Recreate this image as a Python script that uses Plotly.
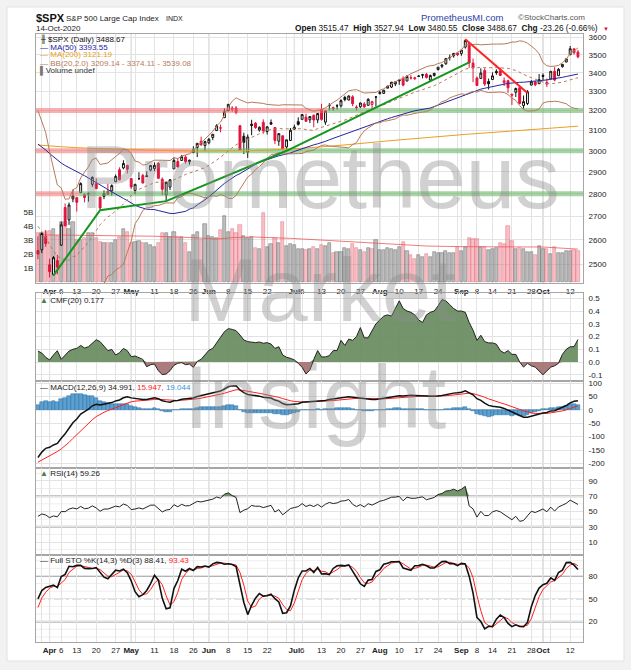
import numpy as np
import pandas as pd
import plotly.graph_objects as go

# ---------------- DATA ----------------
dates = ["2020-03-27","2020-03-30","2020-03-31",
"2020-04-01","2020-04-02","2020-04-03","2020-04-06","2020-04-07","2020-04-08","2020-04-09","2020-04-13","2020-04-14","2020-04-15",
"2020-04-16","2020-04-17","2020-04-20","2020-04-21","2020-04-22","2020-04-23","2020-04-24","2020-04-27","2020-04-28","2020-04-29","2020-04-30",
"2020-05-01","2020-05-04","2020-05-05","2020-05-06","2020-05-07","2020-05-08","2020-05-11","2020-05-12","2020-05-13","2020-05-14","2020-05-15",
"2020-05-18","2020-05-19","2020-05-20","2020-05-21","2020-05-22","2020-05-26","2020-05-27","2020-05-28","2020-05-29",
"2020-06-01","2020-06-02","2020-06-03","2020-06-04","2020-06-05","2020-06-08","2020-06-09","2020-06-10","2020-06-11","2020-06-12","2020-06-15",
"2020-06-16","2020-06-17","2020-06-18","2020-06-19","2020-06-22","2020-06-23","2020-06-24","2020-06-25","2020-06-26","2020-06-29","2020-06-30",
"2020-07-01","2020-07-02","2020-07-06","2020-07-07","2020-07-08","2020-07-09","2020-07-10","2020-07-13","2020-07-14","2020-07-15","2020-07-16",
"2020-07-17","2020-07-20","2020-07-21","2020-07-22","2020-07-23","2020-07-24","2020-07-27","2020-07-28","2020-07-29","2020-07-30","2020-07-31",
"2020-08-03","2020-08-04","2020-08-05","2020-08-06","2020-08-07","2020-08-10","2020-08-11","2020-08-12","2020-08-13","2020-08-14","2020-08-17",
"2020-08-18","2020-08-19","2020-08-20","2020-08-21","2020-08-24","2020-08-25","2020-08-26","2020-08-27","2020-08-28","2020-08-31",
"2020-09-01","2020-09-02","2020-09-03","2020-09-04","2020-09-08","2020-09-09","2020-09-10","2020-09-11","2020-09-14","2020-09-15","2020-09-16",
"2020-09-17","2020-09-18","2020-09-21","2020-09-22","2020-09-23","2020-09-24","2020-09-25","2020-09-28","2020-09-29","2020-09-30",
"2020-10-01","2020-10-02","2020-10-05","2020-10-06","2020-10-07","2020-10-08","2020-10-09","2020-10-12","2020-10-13","2020-10-14"]

opens = [2555.87,2558.98,2614.69,
2498.08,2458.54,2514.92,2578.28,2738.65,2685.00,2776.99,2782.46,2805.10,2795.64,2799.34,2842.43,2845.62,2784.81,2787.89,2810.42,2812.64,2854.65,2909.96,2918.46,2930.91,
2869.09,2815.01,2868.88,2883.14,2878.26,2908.83,2915.46,2939.50,2865.86,2794.54,2829.95,2913.86,2948.59,2953.63,2969.95,2948.05,3004.08,3015.65,3046.61,3025.17,
3038.78,3064.78,3098.90,3111.56,3163.84,3199.92,3213.32,3213.42,3123.53,3071.04,2993.76,3131.00,3136.13,3101.64,3140.29,3094.42,3138.70,3114.40,3046.60,3073.20,3018.59,3050.20,
3105.92,3143.64,3155.29,3166.44,3153.07,3176.17,3152.47,3205.08,3141.11,3225.98,3208.36,3224.21,3224.29,3268.52,3254.86,3271.64,3218.58,3219.84,3234.27,3227.22,3231.76,3270.45,
3288.26,3289.92,3317.37,3323.17,3340.05,3356.04,3370.34,3355.46,3372.95,3368.66,3380.86,3387.04,3392.51,3360.48,3386.01,3418.09,3435.95,3449.97,3485.14,3494.69,3509.73,
3507.44,3543.76,3564.74,3453.60,3371.88,3369.82,3412.56,3352.70,3363.56,3407.73,3411.23,3346.86,3357.38,3285.57,3295.75,3320.11,3226.14,3236.66,3333.90,3350.92,3341.21,
3385.87,3338.94,3367.27,3408.74,3384.56,3434.28,3459.67,3500.02,3534.01,3515.47]

highs = [2615.91,2631.80,2641.39,
2522.75,2533.22,2538.18,2676.85,2756.89,2760.75,2818.57,2782.46,2851.85,2801.88,2806.51,2879.22,2868.98,2785.54,2815.10,2844.90,2842.71,2887.72,2921.15,2954.86,2930.91,
2869.09,2844.24,2898.23,2891.11,2901.92,2932.16,2944.25,2945.82,2874.14,2852.80,2865.01,2968.09,2964.21,2980.29,2978.50,2956.76,3021.72,3036.25,3068.67,3049.17,
3062.18,3081.07,3130.94,3128.91,3211.72,3233.13,3222.71,3223.27,3123.53,3088.42,3079.76,3153.45,3141.16,3120.00,3155.53,3120.92,3154.90,3115.01,3086.25,3073.73,3053.89,3111.51,
3128.44,3165.81,3182.59,3184.15,3171.80,3179.78,3186.82,3235.32,3200.95,3238.28,3220.39,3233.52,3258.61,3277.29,3279.32,3279.99,3227.26,3241.43,3243.72,3264.74,3250.92,3272.17,
3302.73,3306.84,3330.77,3351.03,3352.54,3363.29,3381.01,3387.89,3387.24,3378.51,3387.59,3395.06,3399.54,3390.80,3399.96,3432.09,3444.21,3481.07,3501.38,3509.23,3514.77,
3528.03,3588.11,3564.85,3479.15,3379.97,3424.77,3425.55,3368.95,3402.93,3419.48,3428.92,3375.17,3362.27,3285.57,3320.31,3323.35,3278.70,3306.88,3360.74,3357.92,3393.56,
3397.18,3369.10,3409.57,3431.56,3426.26,3447.28,3482.34,3549.85,3534.01,3527.94]

lows = [2520.02,2545.28,2571.15,
2447.49,2455.79,2459.96,2574.57,2657.67,2663.30,2762.36,2721.17,2805.10,2761.54,2764.32,2830.88,2820.43,2727.10,2775.95,2794.26,2791.76,2852.89,2860.71,2912.16,2892.47,
2821.61,2797.85,2863.55,2847.65,2876.48,2902.88,2903.44,2869.59,2793.15,2766.64,2816.78,2913.86,2922.35,2953.63,2938.57,2933.59,2988.17,2969.75,3023.40,2998.61,
3031.54,3051.64,3098.90,3090.41,3163.84,3196.00,3193.11,3181.49,2999.49,2984.47,2965.66,3076.06,3108.03,3093.51,3083.11,3079.39,3127.12,3032.13,3024.01,3004.63,2999.74,3047.83,
3101.17,3124.52,3155.29,3142.93,3136.53,3115.70,3136.22,3149.43,3127.66,3200.76,3198.59,3205.65,3215.16,3247.77,3253.10,3222.66,3200.05,3214.25,3216.17,3227.22,3204.13,3220.26,
3284.53,3286.37,3317.37,3318.14,3328.72,3335.44,3326.44,3355.46,3363.35,3361.64,3379.22,3370.15,3369.66,3354.69,3379.31,3413.13,3425.84,3444.15,3468.35,3484.32,3493.25,
3494.60,3535.23,3427.41,3349.63,3329.27,3366.84,3329.25,3310.47,3363.56,3389.25,3384.45,3328.82,3292.40,3229.10,3270.95,3232.57,3209.45,3228.44,3332.91,3327.54,3340.47,
3361.39,3323.69,3367.27,3354.54,3384.56,3428.15,3458.07,3499.61,3500.86,3480.55]

closes = [2541.47,2626.65,2584.59,
2470.50,2526.90,2488.65,2663.68,2659.41,2749.98,2789.82,2761.63,2846.06,2783.36,2799.55,2874.56,2823.16,2736.56,2799.31,2797.80,2836.74,2878.48,2863.39,2939.51,2912.43,
2830.71,2842.74,2868.44,2848.42,2881.19,2929.80,2930.32,2870.12,2820.00,2852.50,2863.70,2953.91,2922.94,2971.61,2948.51,2955.45,2991.77,3036.13,3029.73,3044.31,
3055.73,3080.82,3122.87,3112.35,3193.93,3232.39,3207.18,3190.14,3002.10,3041.31,3066.59,3124.74,3113.49,3115.34,3097.74,3117.86,3131.29,3050.33,3083.76,3009.05,3053.24,3100.29,
3115.86,3130.01,3179.72,3145.32,3169.94,3152.05,3185.04,3155.22,3197.52,3226.56,3215.57,3224.73,3251.84,3257.30,3276.02,3235.66,3215.63,3239.41,3218.44,3258.44,3246.22,3271.12,
3294.61,3306.51,3327.77,3349.16,3351.28,3360.47,3333.69,3380.35,3373.43,3372.85,3381.99,3389.78,3374.85,3385.51,3397.16,3431.28,3443.62,3478.73,3484.55,3508.01,3500.31,
3526.65,3580.84,3455.06,3426.96,3331.84,3398.96,3339.19,3340.97,3383.54,3401.20,3385.49,3357.01,3319.47,3281.06,3315.57,3236.92,3246.59,3298.46,3351.60,3335.47,3363.00,
3380.80,3348.42,3408.60,3360.97,3419.44,3446.83,3477.14,3534.22,3511.93,3488.67]

volume_b = [3.5,3.45,3.57,3.6,3.75,3.3,4.3,4.3,3.8,4.3,
3.0,3.0,3.1,3.45,3.5,3.1,2.86,2.74,2.74,2.78,
2.98,3.2,3.76,3.57,2.74,2.86,2.9,2.78,2.74,2.62,
2.5,2.74,3.5,3.45,3.2,3.52,3.2,3.17,2.78,2.14,
3.33,3.57,2.98,4.1,3.3,3.2,3.1,3.7,4.7,3.57,
3.8,3.5,4.05,3.26,3.14,3.2,2.38,2.31,4.88,2.5,
2.69,3.14,2.74,4.29,2.55,2.69,2.62,2.31,2.31,2.26,
2.31,2.5,2.31,2.62,2.55,2.79,2.07,2.1,2.1,2.38,
2.31,2.69,2.38,2.26,2.14,2.38,2.31,2.98,2.26,2.26,
2.38,2.31,2.26,2.5,2.81,2.19,1.91,1.6,1.91,1.74,
1.98,1.79,2.14,2.02,2.02,2.21,2.02,2.02,2.5,2.19,
2.5,3.1,3.02,3.02,2.5,2.45,2.26,2.31,2.38,2.79,
2.69,3.98,2.9,2.31,2.38,2.31,2.1,2.1,1.91,2.55,
2.31,2.31,1.98,2.5,2.02,2.02,2.19,2.19,2.26,2.2]

cmf20 = [0.086,0.07,0.037,0.016,0.055,0.089,0.021,0.055,0.086,0.10,
0.107,0.13,0.11,0.12,0.147,0.175,0.16,0.12,0.089,0.099,
0.055,0.073,0.107,0.089,0.042,0.047,0.031,0.021,-0.037,-0.021,
-0.016,-0.068,-0.099,-0.094,-0.068,-0.026,-0.010,-0.005,-0.021,-0.016,
-0.042,0.005,0.021,0.055,0.092,0.107,0.147,0.194,0.238,0.262,
0.256,0.246,0.212,0.173,0.160,0.157,0.152,0.157,0.147,0.152,
0.141,0.107,0.12,0.055,0.037,0.029,0.016,-0.01,-0.042,-0.094,
-0.063,0.02,0.09,0.04,0.04,0.05,0.09,0.09,0.17,0.13,
0.18,0.17,0.20,0.27,0.19,0.19,0.25,0.30,0.33,0.36,
0.37,0.36,0.42,0.48,0.42,0.40,0.39,0.37,0.33,0.31,
0.37,0.39,0.40,0.44,0.49,0.48,0.45,0.42,0.40,0.40,
0.39,0.31,0.25,0.17,0.21,0.16,0.15,0.15,0.14,0.09,
0.07,0.09,0.06,0.06,0.00,-0.04,-0.01,-0.03,-0.04,-0.07,
-0.10,-0.07,-0.04,-0.03,-0.01,0.06,0.10,0.12,0.12,0.177]

# warm-up history (before the visible window) for the moving indicators
warm_close_janfeb = [3316.81,3329.62,3320.79,3321.75,3325.54,3295.47,3243.63,3276.24,3273.40,3283.66,3225.52,
3248.92,3297.59,3334.69,3345.78,3327.71,3352.09,3357.75,3379.45,3373.94,3380.16,3370.29,3386.15,3373.23,3337.75,
3225.89,3128.21,3116.39,2978.76,2954.22]
warm_high_mar = [3090.96,3136.72,3130.97,3083.04,2985.93,2863.89,2882.59,2825.60,2660.95,2711.33,2562.98,2553.93,2453.57,2466.97,2453.01,2300.73,2449.71,2571.42,2637.01]
warm_low_mar = [2945.19,2976.63,3034.38,2999.83,2901.54,2734.43,2734.00,2707.22,2478.86,2492.37,2380.94,2367.04,2280.52,2319.78,2295.56,2191.86,2344.44,2407.53,2500.72]
warm_close_mar = [3090.23,3003.37,3130.12,3023.94,2972.37,2746.56,2882.23,2741.38,2480.64,2711.02,2386.13,2529.19,2398.10,2409.39,2304.92,2237.40,2447.33,2475.56,2630.07]

# MA(200) and volume average at sample days
ma200_dates = ["2020-03-27","2020-04-13","2020-04-27","2020-05-11","2020-05-26","2020-06-09","2020-06-23","2020-07-08",
"2020-07-22","2020-08-05","2020-08-19","2020-09-02","2020-09-17","2020-10-01","2020-10-14"]
ma200_vals = [3028,3015,3008,3003,2999,3000,3004,3015,3030,3048,3064,3080,3094,3108,3121.19]
volavg_dates = ["2020-03-27","2020-04-13","2020-04-27","2020-05-11","2020-05-26","2020-06-03","2020-06-09","2020-06-16",
"2020-06-30","2020-07-15","2020-07-29","2020-08-10","2020-08-19","2020-09-02","2020-09-17","2020-10-01","2020-10-14"]
volavg_vals = [3.35,3.32,3.28,3.25,3.15,3.05,3.15,3.2,3.1,2.95,2.75,2.65,2.55,2.5,2.5,2.48,2.33]

# hand-drawn support levels / trendlines
support_levels = [2800, 3000, 3200]
support_flip_dates = ["2020-04-14", "2020-05-26", "2020-07-15"]   # red before, green after
green_trend_dates = ["2020-04-02", "2020-04-21", "2020-05-14", "2020-06-29", "2020-09-03"]
green_trend_vals = [2456, 2727, 2767, 3000, 3458]
red_trend_dates = ["2020-09-02", "2020-09-25"]
red_trend_vals = [3588, 3292]

# x-axis ticks (gridline day, label)
x_ticks = [("2020-03-30",""),("2020-04-01","<b>Apr</b>"),("2020-04-06","6"),("2020-04-13","13"),("2020-04-20","20"),
("2020-04-27","27"),("2020-05-01","<b>May</b>"),("2020-05-04",""),("2020-05-11","11"),("2020-05-18","18"),("2020-05-26","26"),
("2020-06-01","<b>Jun</b>"),("2020-06-08","8"),("2020-06-15","15"),("2020-06-22","22"),("2020-06-29",""),("2020-07-01","<b>Jul</b>"),
("2020-07-06","6"),("2020-07-13","13"),("2020-07-20","20"),("2020-07-27","27"),("2020-08-03","<b>Aug</b>"),("2020-08-10","10"),
("2020-08-17","17"),("2020-08-24","24"),("2020-08-31",""),("2020-09-01","<b>Sep</b>"),("2020-09-08","8"),("2020-09-14","14"),
("2020-09-21","21"),("2020-09-28","28"),("2020-10-01","<b>Oct</b>"),("2020-10-05",""),("2020-10-12","12")]
month_start_dates = ["2020-04-01","2020-05-01","2020-06-01","2020-07-01","2020-08-03","2020-09-01","2020-10-01"]

# ---------------- INDICATORS ----------------
n = len(dates)
idx = np.arange(n)
pos = {d: i for i, d in enumerate(dates)}
c_all = pd.Series(warm_close_janfeb + warm_close_mar + closes)
nw = len(warm_close_janfeb) + len(warm_close_mar)
ma50 = c_all.rolling(50).mean().to_numpy()[nw:]
mid = c_all.rolling(20).mean()
sd = c_all.rolling(20).std(ddof=0)
bb_up = (mid + 2 * sd).to_numpy()[nw:]
bb_lo = (mid - 2 * sd).to_numpy()[nw:]
bb_mid = mid.to_numpy()[nw:]
ema12 = c_all.ewm(span=12, adjust=False).mean()
ema26 = c_all.ewm(span=26, adjust=False).mean()
macd_all = ema12 - ema26
sig_all = macd_all.ewm(span=9, adjust=False).mean()
macd = macd_all.to_numpy()[nw:]
signal = sig_all.to_numpy()[nw:]
hist = macd - signal
dlt = c_all.diff()
ag = dlt.clip(lower=0).ewm(alpha=1 / 14, adjust=False).mean()
al = (-dlt.clip(upper=0)).ewm(alpha=1 / 14, adjust=False).mean()
rsi = (100 - 100 / (1 + ag / al)).to_numpy()[nw:]
h2 = pd.Series(warm_high_mar + highs)
l2 = pd.Series(warm_low_mar + lows)
c2 = pd.Series(warm_close_mar + closes)
fk = 100 * (c2 - l2.rolling(14).min()) / (h2.rolling(14).max() - l2.rolling(14).min())
kk = fk.rolling(3).mean()
dd = kk.rolling(3).mean()
sto_k = kk.to_numpy()[len(warm_close_mar):]
sto_d = dd.to_numpy()[len(warm_close_mar):]

prev_close = [warm_close_mar[-1]] + closes[:-1]
up_day = [c >= p for c, p in zip(closes, prev_close)]

# ---------------- LAYOUT GEOMETRY ----------------
W, H = 631, 670
ML, MR, MT, MB = 36, 48, 34, 28
PW, PH = W - ML - MR, H - MT - MB
def fx(x): return (x - ML) / PW
def fy(y): return (H - MB - y) / PH
FONT = "Liberation Sans, Arial, sans-serif"
RED = "#e0143c"
GRID = "#e3e3e3"
BORDER = "#a6a6a6"
XR = [-0.5, 140.3]

dom_price = [fy(283), 1.0]
dom_cmf = [fy(381), fy(293)]
dom_macd = [fy(468), fy(381)]
dom_rsi = [fy(555), fy(468)]
dom_sto = [0.0, fy(555)]

fig = go.Figure()

# volume (base axis y, price panel)
vcol = ["rgba(150,150,150,0.62)" if u else "rgba(238,130,142,0.5)" for u in up_day]
vline = ["rgba(105,105,105,0.8)" if u else "rgba(225,105,118,0.75)" for u in up_day]
fig.add_trace(go.Bar(x=idx, y=volume_b, marker=dict(color=vcol, line=dict(color=vline, width=0.6)),
                     width=0.82, xaxis="x", yaxis="y"))
fig.add_trace(go.Scatter(x=[pos[d] for d in volavg_dates], y=volavg_vals, mode="lines",
                         line=dict(color="rgba(235,80,80,0.75)", width=1), xaxis="x", yaxis="y"))

# support bands (price axis y6)
for lvl, fd in zip(support_levels, support_flip_dates):
    k = pos[fd] - 0.5
    fig.add_trace(go.Scatter(x=[XR[0], k], y=[lvl, lvl], mode="lines",
                             line=dict(color="rgba(240,110,110,0.55)", width=5), xaxis="x", yaxis="y6"))
    fig.add_trace(go.Scatter(x=[k, XR[1]], y=[lvl, lvl], mode="lines",
                             line=dict(color="rgba(95,175,95,0.55)", width=5), xaxis="x", yaxis="y6"))

# MA200, MA50, BB
fig.add_trace(go.Scatter(x=[pos[d] for d in ma200_dates], y=ma200_vals, mode="lines", line_shape="spline",
                         line=dict(color="#e8a020", width=1), xaxis="x", yaxis="y6"))
fig.add_trace(go.Scatter(x=idx, y=ma50, mode="lines", line=dict(color="#2424a0", width=1), xaxis="x", yaxis="y6"))
BBC = "#b87a58"
fig.add_trace(go.Scatter(x=idx, y=bb_up, mode="lines", line=dict(color=BBC, width=1), xaxis="x", yaxis="y6"))
fig.add_trace(go.Scatter(x=idx, y=bb_lo, mode="lines", line=dict(color=BBC, width=1), xaxis="x", yaxis="y6"))
fig.add_trace(go.Scatter(x=idx, y=bb_mid, mode="lines", line=dict(color=BBC, width=1, dash="dot"), xaxis="x", yaxis="y6"))

# candles: black when close >= previous close, red otherwise; hollow when close > open
for flag, col in [(True, "#111111"), (False, RED)]:
    sel = [i for i in range(n) if up_day[i] == flag]
    fig.add_trace(go.Candlestick(
        x=sel, open=[opens[i] for i in sel], high=[highs[i] for i in sel],
        low=[lows[i] for i in sel], close=[closes[i] for i in sel],
        increasing=dict(line=dict(color=col, width=1), fillcolor="white"),
        decreasing=dict(line=dict(color=col, width=1), fillcolor=col),
        whiskerwidth=0, xaxis="x", yaxis="y6"))

# trendlines
fig.add_trace(go.Scatter(x=[pos[d] for d in green_trend_dates], y=green_trend_vals, mode="lines",
                         line=dict(color="#14961e", width=2), xaxis="x", yaxis="y6"))
fig.add_trace(go.Scatter(x=[pos[d] for d in red_trend_dates], y=red_trend_vals, mode="lines",
                         line=dict(color="#ff2424", width=2), xaxis="x", yaxis="y6"))

# CMF
cmf = np.array(cmf20)
fig.add_trace(go.Scatter(x=idx, y=np.maximum(cmf, 0), mode="lines", line=dict(width=0), fill="tozeroy",
                         fillcolor="rgba(104,140,96,0.92)", xaxis="x2", yaxis="y2"))
fig.add_trace(go.Scatter(x=idx, y=np.minimum(cmf, 0), mode="lines", line=dict(width=0), fill="tozeroy",
                         fillcolor="rgba(165,112,112,0.92)", xaxis="x2", yaxis="y2"))
fig.add_trace(go.Scatter(x=idx, y=cmf, mode="lines", line=dict(color="#222", width=1), xaxis="x2", yaxis="y2"))

# MACD
fig.add_trace(go.Bar(x=idx, y=hist, width=1.0, marker=dict(color="rgba(74,150,205,0.9)", line=dict(color="#2a6e9e", width=0.5)),
                     xaxis="x3", yaxis="y3"))
fig.add_trace(go.Scatter(x=idx, y=signal, mode="lines", line=dict(color="#ff2020", width=1), xaxis="x3", yaxis="y3"))
fig.add_trace(go.Scatter(x=idx, y=macd, mode="lines", line=dict(color="#111", width=1.5), xaxis="x3", yaxis="y3"))

# RSI
fig.add_trace(go.Scatter(x=idx, y=[70] * n, mode="lines", line=dict(width=0), xaxis="x4", yaxis="y4"))
fig.add_trace(go.Scatter(x=idx, y=np.maximum(rsi, 70), mode="lines", line=dict(width=0), fill="tonexty",
                         fillcolor="rgba(104,140,96,0.92)", xaxis="x4", yaxis="y4"))
fig.add_trace(go.Scatter(x=idx, y=rsi, mode="lines", line=dict(color="#222", width=1), xaxis="x4", yaxis="y4"))

# Full STO
fig.add_trace(go.Scatter(x=idx, y=sto_d, mode="lines", line=dict(color="#ff2020", width=1), xaxis="x5", yaxis="y5"))
fig.add_trace(go.Scatter(x=idx, y=sto_k, mode="lines", line=dict(color="#111", width=1.6), xaxis="x5", yaxis="y5"))

# ---------------- AXES ----------------
tick_idx = [pos[d] for d, _ in x_ticks]
tick_txt = [t for _, t in x_ticks]
tickfont = dict(family=FONT, size=8, color="#222")
def xax(dom_anchor, labels):
    return dict(range=XR, anchor=dom_anchor, tickvals=tick_idx, ticktext=tick_txt, showticklabels=labels,
                tickangle=0, showgrid=True, gridcolor=GRID, gridwidth=1, showline=True, mirror=True, linecolor=BORDER,
                ticks="", zeroline=False, tickfont=tickfont, fixedrange=True)
def yax(dom, rng, tv, tt, gv=None):
    d = dict(domain=dom, range=rng, side="right", tickvals=tv, ticktext=tt, showgrid=True, gridcolor=GRID,
             showline=True, mirror=True, linecolor=BORDER, zeroline=False, ticks="outside", ticklen=3,
             tickcolor="rgba(0,0,0,0)", tickfont=tickfont, fixedrange=True)
    return d

price_ticks = [2500, 2600, 2700, 2800, 2900, 3000, 3100, 3200, 3300, 3400, 3500, 3600]
fig.update_layout(
    xaxis=xax("y", True), xaxis2=xax("y2", False), xaxis3=xax("y3", False), xaxis4=xax("y4", False), xaxis5=xax("y5", True),
    yaxis=dict(domain=dom_price, range=[-0.09, 17.69], side="left", tickvals=[1, 2, 3, 4, 5],
               ticktext=["1B", "2B", "3B", "4B", "5B"], showgrid=False, showline=True, mirror=True, linecolor=BORDER,
               zeroline=False, ticks="", tickfont=tickfont, fixedrange=True),
    yaxis6=dict(overlaying="y", type="log", range=[np.log10(2426), np.log10(3619)], side="right", anchor="x",
                tickvals=price_ticks, ticktext=[str(v) for v in price_ticks], showgrid=True, gridcolor=GRID,
                zeroline=False, ticks="outside", ticklen=3, tickcolor="rgba(0,0,0,0)", tickfont=tickfont, fixedrange=True),
    yaxis2=yax(dom_cmf, [-0.149, 0.5416], [-0.1, 0, 0.1, 0.2, 0.3, 0.4, 0.5], ["-0.1", "0.0", "0.1", "0.2", "0.3", "0.4", "0.5"]),
    yaxis3=yax(dom_macd, [-217.5, 108.7], [-200, -150, -100, -50, 0, 50, 100], ["-200", "-150", "-100", "-50", "0", "50", "100"]),
    yaxis4=yax(dom_rsi, [-7, 107], [10, 30, 50, 70, 90], ["10", "30", "50", "70", "90"]),
    yaxis5=yax(dom_sto, [-6.7, 107.5], [20, 50, 80], ["20", "50", "80"]),
)

# ---------------- SHAPES ----------------
shapes = [dict(type="rect", xref="paper", yref="paper", x0=fx(7), x1=fx(624), y0=fy(661), y1=fy(7),
               fillcolor="white", line=dict(color="#e2e2e2", width=1), layer="below")]
# faint extra horizontal grid lines in RSI / STO panels
for yr, lvls in [("y4", [0, 20, 40, 60, 80, 100]), ("y5", [0, 10, 30, 40, 60, 70, 90, 100])]:
    for lv in lvls:
        shapes.append(dict(type="line", xref=yr.replace("y", "x") + " domain", yref=yr, x0=0, x1=1, y0=lv, y1=lv,
                           line=dict(color="#eeeeee", width=1), layer="below"))
for m in month_start_dates:
    for xr, yr in [("x", "y"), ("x2", "y2"), ("x3", "y3"), ("x4", "y4"), ("x5", "y5")]:
        shapes.append(dict(type="line", xref=xr, yref=yr + " domain", x0=pos[m], x1=pos[m], y0=0, y1=1,
                           line=dict(color="#c4c4c4", width=1), layer="below"))
for yr, lv in [("y4", 70), ("y4", 30), ("y5", 80), ("y5", 20)]:
    shapes.append(dict(type="line", xref=yr.replace("y", "x") + " domain", yref=yr, x0=0, x1=1, y0=lv, y1=lv,
                       line=dict(color="#b4b4b4", width=2), layer="below"))
for yr in ["y4", "y5"]:
    shapes.append(dict(type="line", xref=yr.replace("y", "x") + " domain", yref=yr, x0=0, x1=1, y0=50, y1=50,
                       line=dict(color="#9a9a9a", width=1, dash="dashdot"), layer="below"))

# ---------------- TEXT ----------------
def ann(x, y, text, size=8, color="#222", xanchor="left", family=FONT):
    return dict(x=fx(x), y=fy(y), xref="paper", yref="paper", text=text, showarrow=False, xanchor=xanchor,
                yanchor="middle", font=dict(size=size, color=color, family=family))

WM = "rgba(140,140,140,0.40)"
anns = [
    ann(320, 177, "Prometheus", size=89, color=WM, xanchor="center"),
    ann(320, 290, "Market", size=89, color=WM, xanchor="center"),
    ann(315, 397, "Insight", size=89, color=WM, xanchor="center"),
    ann(34, 18, "<b>$SPX</b>", size=11, color="#111"),
    ann(64, 19, "S&P 500 Large Cap Index", size=8),
    ann(164, 19, "INDX", size=7),
    ann(34, 28.5, "14-Oct-2020", size=8),
    ann(462, 18, "PrometheusMI.com", size=9.5, color="#2a3ea8", xanchor="center"),
    ann(516, 18, "©StockCharts.com", size=8, color="#555"),
    ann(600, 28.5, "<b>Open</b> 3515.47  <b>High</b> 3527.94  <b>Low</b> 3480.55  <b>Close</b> 3488.67  <b>Chg</b> -23.26 (-0.66%)",
        size=8.3, color="#111", xanchor="right"),
    ann(601, 29, "▼", size=6, color=RED),
    ann(38, 39, "<span style='font-family:DejaVu Sans'>╫</span> $SPX (Daily) 3488.67", size=8, color="#111"),
    ann(38, 47, "— MA(50) 3393.55", size=8, color="#2424a0"),
    ann(38, 55, "— MA(200) 3121.19", size=8, color="#e8a020"),
    ann(38, 63, "— BB(20,2.0) 3209.14 - 3374.11 - 3539.08", size=8, color=BBC),
    ann(38, 71, "<span style='color:#777'>▌</span>Volume undef", size=8, color="#333"),
    ann(38, 300, "<span style='color:#4d7a45'>▲</span> CMF(20) 0.177", size=8, color="#222"),
    ann(38, 387, "— MACD(12,26,9) 34.991, <span style='color:#ff2020'>15.947,</span> <span style='color:#3a90d0'>19.044</span>",
        size=8, color="#222"),
    ann(38, 474, "<span style='color:#4d7a45'>▲</span> RSI(14) 59.26", size=8, color="#222"),
    ann(38, 560, "— Full STO %K(14,3) %D(3) 88.41, <span style='color:#ff2020'>93.43</span>", size=8, color="#222"),
]

fig.update_layout(
    width=W, height=H, margin=dict(l=ML, r=MR, t=MT, b=MB),
    paper_bgcolor="#f2f2f2", plot_bgcolor="white",
    showlegend=False, hovermode=False, dragmode=False, bargap=0,
    font=dict(family=FONT, size=8, color="#222"),
    shapes=shapes, annotations=anns,
)
for ax in ["xaxis", "xaxis2", "xaxis3", "xaxis4", "xaxis5"]:
    fig.layout[ax].rangeslider = dict(visible=False)

fig.write_html("out.html", config={"displayModeBar": False},
               post_script="document.body.style.margin='0px';document.body.style.overflow='hidden';")
